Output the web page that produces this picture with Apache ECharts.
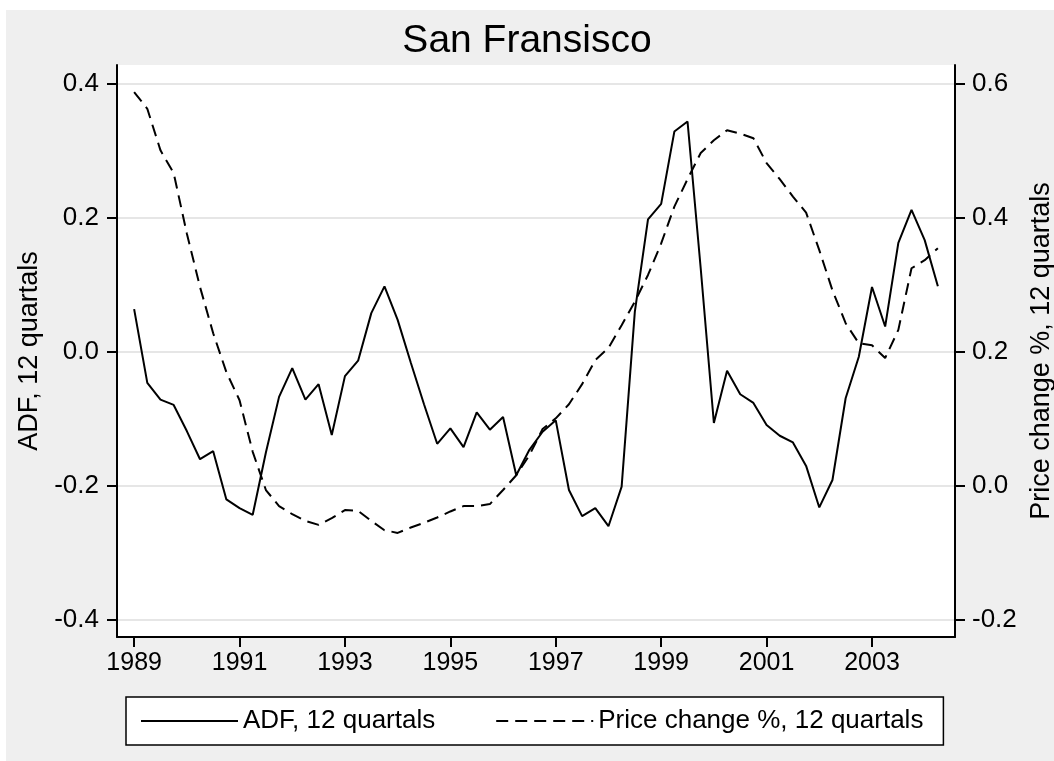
<!DOCTYPE html>
<html>
<head>
<meta charset="utf-8">
<script src="https://cdn.jsdelivr.net/npm/echarts@6/dist/echarts.min.js"></script>
<style>
  html, body { margin: 0; padding: 0; background: #fff; }
  #chart { width: 1054px; height: 761px; }
</style>
</head>
<body>
<div id="chart"></div>
<script>
var startYear = 1989;
var yearTicks = [1989, 1991, 1993, 1995, 1997, 1999, 2001, 2003];
var adfTicks = [-0.4, -0.2, 0, 0.2, 0.4];
var priceTicks = [-0.2, 0, 0.2, 0.4, 0.6];

// quarterly, 1989q1 .. 2004q2
var adf = [
  0.064, -0.046, -0.071, -0.079, -0.118, -0.160, -0.148, -0.220,
  -0.233, -0.243, -0.150, -0.067, -0.024, -0.071, -0.048, -0.124,
  -0.036, -0.013, 0.058, 0.098, 0.048, -0.016, -0.078, -0.137,
  -0.114, -0.142, -0.090, -0.116, -0.097, -0.184, -0.146, -0.119,
  -0.102, -0.206, -0.245, -0.233, -0.260, -0.201, 0.060, 0.198,
  0.221, 0.329, 0.344, 0.125, -0.106, -0.028, -0.063, -0.076,
  -0.109, -0.125, -0.135, -0.170, -0.232, -0.191, -0.069, -0.007,
  0.097, 0.038, 0.163, 0.212, 0.167, 0.098
];
var priceChange = [
  0.588, 0.563, 0.501, 0.467, 0.377, 0.297, 0.228, 0.170,
  0.128, 0.051, -0.006, -0.030, -0.042, -0.052, -0.058, -0.048,
  -0.036, -0.037, -0.052, -0.066, -0.070, -0.062, -0.055, -0.047,
  -0.038, -0.030, -0.030, -0.027, -0.006, 0.016, 0.046, 0.085,
  0.101, 0.122, 0.152, 0.188, 0.206, 0.240, 0.275, 0.315,
  0.362, 0.417, 0.458, 0.497, 0.516, 0.531, 0.526, 0.519,
  0.482, 0.458, 0.432, 0.408, 0.352, 0.292, 0.243, 0.213,
  0.210, 0.191, 0.233, 0.325, 0.337, 0.355
];

function toPairs(values) {
  return values.map(function(v, i) { return [startYear + i / 4, v]; });
}

var font = 'Liberation Sans, Arial, sans-serif';
var chart = echarts.init(document.getElementById('chart'), null, {renderer: 'canvas'});

var yAxisCommon = {
  type: 'value',
  nameLocation: 'middle',
  nameRotate: 90,
  nameTextStyle: { color: '#000', fontSize: 27, fontFamily: font },
  axisLine: { show: true, lineStyle: { color: '#000', width: 2 } },
  axisTick: { show: true, length: 10, lineStyle: { color: '#000', width: 2 } },
  axisLabel: { color: '#000', fontSize: 26, fontFamily: font, margin: 18,
    formatter: function(v) { return v.toFixed(1); } }
};

option = {
  backgroundColor: '#fff',
  animation: false,
  graphic: [{
    type: 'rect', left: 6, top: 10, z: -10,
    shape: { width: 1048, height: 751 },
    style: { fill: '#efefef' }
  }],
  title: {
    text: 'San Fransisco',
    left: 'center', top: 17,
    textStyle: { color: '#000', fontSize: 39, fontWeight: 'normal', fontFamily: font }
  },
  grid: {
    left: 117, right: 99, top: 65, bottom: 124,
    outerBoundsMode: 'none',
    show: true, backgroundColor: '#fff', borderWidth: 0
  },
  legend: {
    left: 126, top: 697,
    padding: [11, 20, 11, 14],
    itemGap: 60,
    itemWidth: 97, itemHeight: 10,
    backgroundColor: '#fff',
    borderColor: '#000', borderWidth: 1.5, borderRadius: 0,
    itemStyle: { opacity: 0 },
    textStyle: { color: '#000', fontSize: 26, fontFamily: font },
    data: ['ADF, 12 quartals', 'Price change %, 12 quartals']
  },
  xAxis: {
    type: 'value',
    min: 1988.675, max: 2004.575,
    splitLine: { show: false },
    axisLine: { show: true, onZero: false, lineStyle: { color: '#000', width: 2 } },
    axisTick: { show: true, length: 10, lineStyle: { color: '#000', width: 2 }, customValues: yearTicks },
    axisLabel: { color: '#000', fontSize: 25, fontFamily: font, margin: 14,
      customValues: yearTicks, formatter: function(v) { return String(v); } }
  },
  yAxis: [
    Object.assign({}, yAxisCommon, {
      name: 'ADF, 12 quartals',
      nameGap: 72,
      position: 'left',
      min: -0.42537, max: 0.42836,
      splitLine: { show: true, lineStyle: { color: '#e6e6e6', width: 2 } },
      axisTick: Object.assign({}, yAxisCommon.axisTick, { customValues: adfTicks }),
      axisLabel: Object.assign({}, yAxisCommon.axisLabel, { customValues: adfTicks })
    }),
    Object.assign({}, yAxisCommon, {
      name: 'Price change %, 12 quartals',
      nameGap: 62,
      position: 'right',
      min: -0.22537, max: 0.62836,
      splitLine: { show: false },
      axisTick: Object.assign({}, yAxisCommon.axisTick, { customValues: priceTicks }),
      axisLabel: Object.assign({}, yAxisCommon.axisLabel, { customValues: priceTicks, margin: 17 })
    })
  ],
  series: [{
    name: 'ADF, 12 quartals',
    type: 'line',
    yAxisIndex: 0,
    showSymbol: false, symbol: 'none',
    lineStyle: { color: '#000', width: 2 },
    itemStyle: { color: '#000' },
    data: toPairs(adf)
  }, {
    name: 'Price change %, 12 quartals',
    type: 'line',
    yAxisIndex: 1,
    showSymbol: false, symbol: 'none',
    lineStyle: { color: '#000', width: 2, type: [12, 7] },
    itemStyle: { color: '#000' },
    data: toPairs(priceChange)
  }]
};
chart.setOption(option);
</script>
</body>
</html>
